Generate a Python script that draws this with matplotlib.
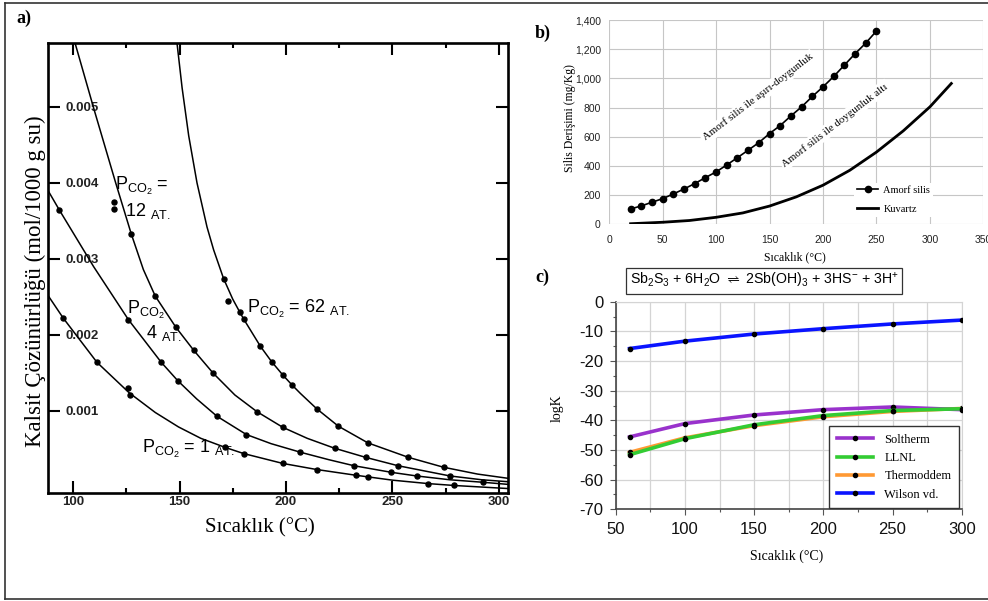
import numpy as np
import matplotlib
matplotlib.use('Agg')
import matplotlib.pyplot as plt
from matplotlib.lines import Line2D
from matplotlib.ticker import FuncFormatter, MultipleLocator

plt.rcParams['font.family'] = ['Liberation Sans', 'DejaVu Sans']
plt.rcParams['mathtext.fontset'] = 'custom'
plt.rcParams['mathtext.rm'] = 'Liberation Sans'
plt.rcParams['mathtext.it'] = 'Liberation Sans:italic'
plt.rcParams['mathtext.bf'] = 'Liberation Sans:bold'
plt.rcParams['mathtext.fallback'] = 'stixsans'
plt.rcParams['axes.unicode_minus'] = False

SERIF = ['Liberation Serif', 'DejaVu Serif']

# --- panel a: calcite solubility (x 1e-3 mol / 1000 g) ---
t62_line = [148.8, 151.2, 154.3, 158.2, 162.9, 166.0, 170.7, 175.0, 178.3, 180.1, 188.0, 193.2,
            198.6, 202.9, 206.8, 214.4, 224.6, 238.5, 257.5, 274.0, 290.0, 304.1]
c62_line = [5.84, 5.25, 4.62, 4.00, 3.42, 3.12, 2.74, 2.47, 2.30, 2.21, 1.85, 1.65,
            1.47, 1.34, 1.23, 1.03, 0.80, 0.58, 0.39, 0.26, 0.17, 0.115]
t62_dots = [170.7, 172.8, 178.3, 180.1, 188.0, 193.2, 198.6, 202.9, 214.4, 224.6, 238.5, 257.5, 274.0]
c62_dots = [2.74, 2.44, 2.30, 2.21, 1.85, 1.65, 1.47, 1.34, 1.03, 0.80, 0.58, 0.39, 0.26]

t12_line = [100.9, 110.0, 120.0, 127.3, 133.0, 138.6, 148.3, 156.6, 165.7, 176.0, 186.4, 198.5,
            210.0, 222.8, 237.4, 252.6, 277.1, 292.0, 304.1]
c12_line = [5.84, 4.95, 4.00, 3.33, 2.86, 2.51, 2.10, 1.80, 1.50, 1.21, 0.99, 0.785,
            0.64, 0.51, 0.39, 0.28, 0.145, 0.095, 0.07]
t12_dots = [119.0, 119.0, 127.3, 138.6, 148.3, 156.6, 165.7, 186.4, 198.5, 222.8, 237.4, 252.6, 277.1]
c12_dots = [3.75, 3.65, 3.33, 2.51, 2.10, 1.80, 1.50, 0.99, 0.785, 0.51, 0.39, 0.28, 0.145]

t4_line = [88.2, 93.6, 109.6, 126.0, 141.4, 149.1, 158.0, 167.6, 181.4, 193.0, 206.8, 220.0,
           231.9, 249.5, 261.4, 277.0, 292.6, 304.1]
c4_line = [3.90, 3.64, 2.90, 2.20, 1.64, 1.40, 1.16, 0.93, 0.69, 0.57, 0.457, 0.36,
           0.28, 0.193, 0.145, 0.095, 0.062, 0.035]
t4_dots = [93.6, 126.0, 141.4, 149.1, 167.6, 181.4, 206.8, 231.9, 249.5, 261.4, 292.6]
c4_dots = [3.64, 2.20, 1.64, 1.40, 0.93, 0.69, 0.457, 0.28, 0.193, 0.145, 0.062]

t1_line = [88.2, 95.4, 111.2, 126.3, 138.6, 149.5, 160.0, 171.5, 180.1, 198.5, 214.4, 232.7,
           250.0, 266.7, 279.0, 304.1]
c1_line = [2.52, 2.22, 1.64, 1.24, 0.98, 0.79, 0.64, 0.52, 0.44, 0.31, 0.23, 0.155,
           0.09, 0.045, 0.02, -0.02]
t1_dots = [95.4, 111.2, 125.7, 126.8, 171.5, 180.1, 198.5, 214.4, 232.7, 238.7, 266.7, 279.0]
c1_dots = [2.22, 1.64, 1.30, 1.21, 0.52, 0.44, 0.31, 0.23, 0.155, 0.135, 0.045, 0.02]

a_xticks = [100, 150, 200, 250, 300]
a_yticks = [0.001, 0.002, 0.003, 0.004, 0.005]
a_ylabels = ['0.001', '0.002', '0.003', '0.004', '0.005']

# --- panel b: silica concentration ---
t_amorf = [20, 30, 40, 50, 60, 70, 80, 90, 100, 110, 120, 130, 140, 150, 160, 170,
           180, 190, 200, 210, 220, 230, 240, 250]
amorf = [105, 126, 151, 176, 208, 242, 279, 320, 359, 407, 457, 508, 560, 622, 677, 743,
         805, 876, 942, 1013, 1091, 1169, 1242, 1325]
t_kuvartz = [20, 50, 75, 100, 125, 150, 175, 200, 225, 250, 275, 300, 320]
kuvartz = [4, 14, 26, 48, 78, 125, 188, 268, 370, 495, 640, 805, 965]

# --- panel c: logK ---
t_logk = [60, 100, 150, 200, 250, 300]
soltherm = [-45.6, -41.1, -38.2, -36.4, -35.5, -36.4]
llnl = [-51.6, -46.2, -41.5, -38.4, -36.7, -36.1]
thermoddem = [-50.8, -45.9, -41.8, -38.8, -37.0, -36.0]
wilson = [-15.8, -13.3, -10.9, -9.1, -7.5, -6.2]

W, H = 988, 601
fig = plt.figure(figsize=(9.88, 6.01), dpi=100)


def fx(x):
    return x / W


def fy(y):
    return 1 - y / H


# ================= a) =================
ax1 = fig.add_axes([fx(48), fy(492.7), 460 / W, 449.7 / H])
for t, c in [(t62_line, c62_line), (t12_line, c12_line), (t4_line, c4_line), (t1_line, c1_line)]:
    ax1.plot(t, np.array(c) * 1e-3, color='black', lw=1.1)
for t, c in [(t62_dots, c62_dots), (t12_dots, c12_dots), (t4_dots, c4_dots), (t1_dots, c1_dots)]:
    ax1.plot(t, np.array(c) * 1e-3, 'o', color='black', ms=3.6)
ax1.set_xlim(88.2, 304.3)
ax1.set_ylim(-0.075e-3, 5.84e-3)
ax1.set_xticks(a_xticks)
ax1.set_xticks([125, 175, 225, 275], minor=True)
ax1.set_yticks(a_yticks)
ax1.set_yticklabels(a_ylabels)
ax1.tick_params(which='both', direction='in', top=True, right=True, width=1.5, color='black')
ax1.tick_params(which='major', length=8.5)
ax1.tick_params(which='minor', length=3.6)
ax1.tick_params(axis='x', labelsize=9.5, pad=2.5, labelcolor='#222')
ax1.tick_params(axis='y', labelsize=9.5, pad=-12.5, labelcolor='#222')
for lbl in ax1.get_yticklabels():
    lbl.set_horizontalalignment('left')
    lbl.set_fontweight('bold')
for lbl in ax1.get_xticklabels():
    lbl.set_fontweight('bold')
for s in ax1.spines.values():
    s.set_linewidth(1.9)

ax1.text(119.8, 3.91e-3, r'P$_{\mathrm{CO_2}}$ =', fontsize=13, ha='left', va='baseline')
ax1.text(124.5, 3.57e-3, r'12 $_{\mathrm{AT.}}$', fontsize=13, ha='left', va='baseline')
ax1.text(125.3, 2.28e-3, r'P$_{\mathrm{CO_2}}$', fontsize=13, ha='left', va='baseline')
ax1.text(134.2, 1.96e-3, r'4 $_{\mathrm{AT.}}$', fontsize=13, ha='left', va='baseline')
ax1.text(181.7, 2.29e-3, r'P$_{\mathrm{CO_2}}$ = 62 $_{\mathrm{AT.}}$', fontsize=13, ha='left', va='baseline')
ax1.text(132.3, 0.45e-3, r'P$_{\mathrm{CO_2}}$ = 1 $_{\mathrm{AT.}}$', fontsize=13, ha='left', va='baseline')

fig.text(fx(260), fy(528), 'Sıcaklık (°C)', family=SERIF, fontsize=15, ha='center', va='center')
fig.text(fx(35), fy(281), 'Kalsit Çözünürlüğü (mol/1000 g su)', family=SERIF, fontsize=16.5,
         rotation=90, ha='center', va='center')
fig.text(fx(16), fy(18), 'a)', family=SERIF, fontsize=13, fontweight='bold', ha='left', va='center')

# ================= b) =================
ax2 = fig.add_axes([fx(609.2), fy(224.3), 374.2 / W, 204.3 / H])
ax2.plot(t_amorf, amorf, '-o', color='black', lw=1.2, ms=4.5, label='Amorf silis', zorder=3)
ax2.plot(t_kuvartz, kuvartz, '-', color='black', lw=2.0, label='Kuvartz', zorder=3)
ax2.set_xlim(0, 350)
ax2.set_ylim(0, 1400)
ax2.set_xticks(range(0, 351, 50))
ax2.set_yticks(range(0, 1401, 200))
ax2.yaxis.set_major_formatter(FuncFormatter(lambda v, p: f'{v:,.0f}'))
ax2.grid(True, color='#c6c6c6', lw=0.8)
ax2.set_axisbelow(True)
for s in ax2.spines.values():
    s.set_visible(False)
ax2.tick_params(length=0, labelsize=7.5, labelcolor='#222')
ax2.tick_params(axis='x', pad=8)
ax2.tick_params(axis='y', pad=6)
ax2.text(139.2, 872, 'Amorf silis ile aşırı-doygunluk', family=SERIF, fontsize=7.8, rotation=37.5,
         ha='center', va='center', rotation_mode='anchor',
         bbox=dict(facecolor='white', edgecolor='none', pad=1.5))
ax2.text(211.2, 680, 'Amorf silis ile doygunluk altı', family=SERIF, fontsize=7.8, rotation=37.5,
         ha='center', va='center', rotation_mode='anchor',
         bbox=dict(facecolor='white', edgecolor='none', pad=1.5))
leg2 = ax2.legend(loc='center left', bbox_to_anchor=(0.655, 0.12), borderaxespad=0,
                  prop=dict(family=SERIF, size=7.5), frameon=True, fancybox=False,
                  facecolor='white', edgecolor='none', framealpha=1,
                  handlelength=2.0, handletextpad=0.5, labelspacing=0.9, borderpad=0.3)
fig.text(fx(795), fy(257), 'Sıcaklık (°C)', family=SERIF, fontsize=8.5, ha='center', va='center')
fig.text(fx(570), fy(118), 'Silis Derişimi (mg/Kg)', family=SERIF, fontsize=8.5,
         rotation=90, ha='center', va='center')
fig.text(fx(535), fy(33), 'b)', family=SERIF, fontsize=13, fontweight='bold', ha='left', va='center')

# ================= c) =================
ax3 = fig.add_axes([fx(615.7), fy(509.3), 346 / W, 207.6 / H])
series = [('Soltherm', soltherm, '#9932CC', 3),
          ('LLNL', llnl, '#33CC33', 3),
          ('Thermoddem', thermoddem, '#FF9933', 2),
          ('Wilson vd.', wilson, '#0A14FF', 3)]
for name, vals, col, z in series:
    ax3.plot(t_logk, vals, color=col, lw=2.6, marker='o', ms=3, mfc='black', mec='black',
             label=name, zorder=z)
ax3.set_xlim(50, 300)
ax3.set_ylim(-70, 0)
ax3.set_xticks(range(50, 301, 50))
ax3.set_yticks(range(-70, 1, 10))
ax3.xaxis.set_minor_locator(MultipleLocator(25))
ax3.yaxis.set_minor_locator(MultipleLocator(5))
ax3.grid(which='major', color='#d4d4d4', lw=0.9)
ax3.grid(which='minor', axis='x', color='#d4d4d4', lw=0.9)
ax3.set_axisbelow(True)
ax3.tick_params(which='major', length=4, width=0.8, color='#555', labelsize=12, pad=5, labelcolor='#111')
ax3.tick_params(which='minor', length=2.5, width=0.8, color='#555')
ax3.spines['left'].set_color('#444')
ax3.spines['bottom'].set_color('#444')
ax3.spines['left'].set_linewidth(1.2)
ax3.spines['bottom'].set_linewidth(1.2)
ax3.spines['top'].set_color('#d4d4d4')
ax3.spines['right'].set_color('#d4d4d4')
leg3 = ax3.legend(loc='lower right', bbox_to_anchor=(0.992, 0.006), borderaxespad=0,
                  prop=dict(family=SERIF, size=9), frameon=True, fancybox=False,
                  edgecolor='#333', framealpha=1, handlelength=2.9, labelspacing=0.5,
                  handletextpad=0.9, borderpad=0.6)
leg3.get_frame().set_linewidth(1.0)

eq = r'Sb$_2$S$_3$ + 6H$_2$O $\rightleftharpoons$ 2Sb(OH)$_3$ + 3HS$^{-}$ + 3H$^{+}$'
fig.text(fx(764), fy(281), eq, fontsize=10.2, ha='center', va='center',
         bbox=dict(boxstyle='square,pad=0.25', facecolor='white', edgecolor='#333', lw=0.9))
fig.text(fx(787), fy(556), 'Sıcaklık (°C)', family=SERIF, fontsize=10, ha='center', va='center')
fig.text(fx(557), fy(408), 'logK', family=SERIF, fontsize=10, rotation=90, ha='center', va='center')
fig.text(fx(535), fy(277), 'c)', family=SERIF, fontsize=13, fontweight='bold', ha='left', va='center')

# frame round the whole figure
for xs, ys in [([fx(5), 1.0], [fy(3), fy(3)]),
               ([fx(5), fx(5)], [fy(3), fy(598.5)]),
               ([fx(5), 1.0], [fy(598.5), fy(598.5)])]:
    fig.add_artist(Line2D(xs, ys, transform=fig.transFigure, color='#333', lw=1.2))

fig.savefig('out.png', dpi=100)
